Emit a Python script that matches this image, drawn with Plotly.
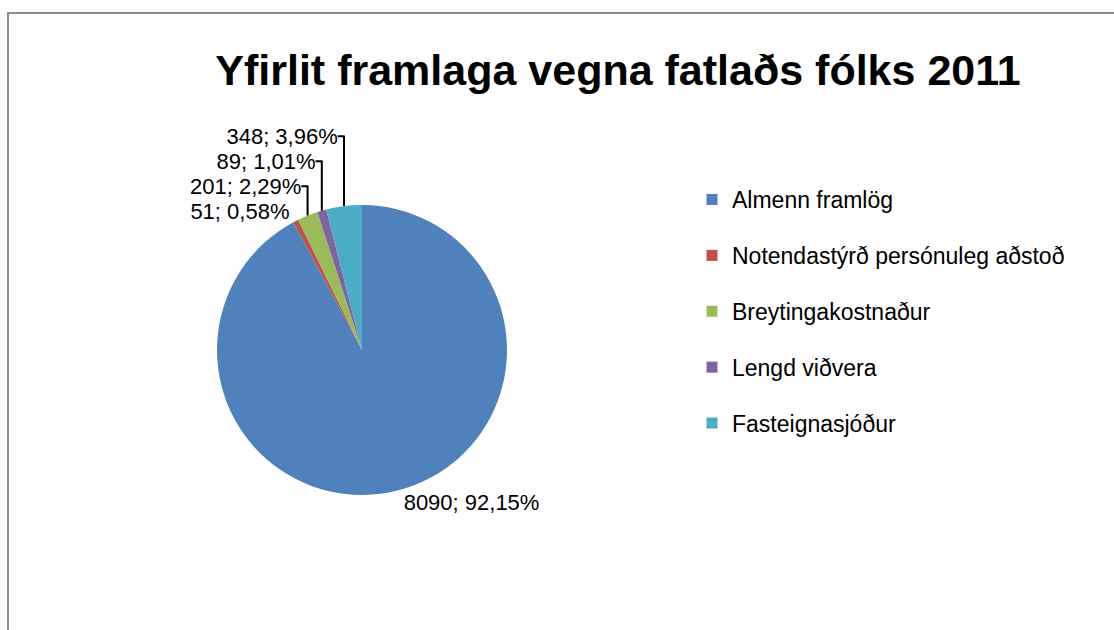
import plotly.graph_objects as go

categories = ["Almenn framlög", "Notendastýrð persónuleg aðstoð", "Breytingakostnaður",
              "Lengd viðvera", "Fasteignasjóður"]
values = [8090, 51, 201, 89, 348]
colors = ["#4F81BD", "#C0504D", "#9BBB59", "#8064A2", "#4BACC6"]
title_text = "Yfirlit framlaga vegna fatlaðs fólks 2011"

W, H = 1114, 630
FONT = "Liberation Sans, Arial, sans-serif"

fig = go.Figure()

cx, cy, r = 362, 350, 145
fig.add_trace(go.Pie(
    labels=categories,
    values=values,
    sort=False,
    direction="clockwise",
    rotation=0,
    marker=dict(colors=colors, line=dict(width=0)),
    texttemplate="%{value:d}; %{percent:.2%}",
    textposition="outside",
    outsidetextfont=dict(family=FONT, size=22, color="#000000"),
    showlegend=False,
    hoverinfo="label+value+percent",
    domain=dict(x=[(cx - r) / W, (cx + r) / W], y=[(H - cy - r) / H, (H - cy + r) / H]),
))

# legend entries
for i, (name, col) in enumerate(zip(categories, colors)):
    fig.add_trace(go.Scatter(
        x=[None], y=[None], mode="markers", name=name,
        marker=dict(symbol="square", size=11, color=col),
        legendgroup=f"g{i}", showlegend=True, hoverinfo="skip",
    ))

fig.update_layout(
    width=W, height=H,
    margin=dict(l=0, r=0, t=0, b=0),
    paper_bgcolor="white", plot_bgcolor="white",
    separators=",.",
    font=dict(family=FONT, color="#000000"),
    title=dict(text=title_text, x=618 / W, xanchor="center", y=1 - 70 / H, yanchor="middle",
               xref="paper", yref="paper",
               font=dict(family=FONT, size=43, color="#000000", weight="bold")),
    xaxis=dict(visible=False), yaxis=dict(visible=False),
    legend=dict(x=692 / W, xanchor="left", y=1 - 178 / H, yanchor="top",
                font=dict(family=FONT, size=23, color="#000000"),
                tracegroupgap=23, itemwidth=30, bgcolor="rgba(0,0,0,0)"),
    shapes=[dict(type="rect", xref="paper", yref="paper",
                 x0=8 / W, x1=1.02, y0=-0.02, y1=1 - 13 / H,
                 line=dict(color="#8C8C8C", width=2), fillcolor="rgba(0,0,0,0)", layer="below")],
)

fig.write_html("out.html")
